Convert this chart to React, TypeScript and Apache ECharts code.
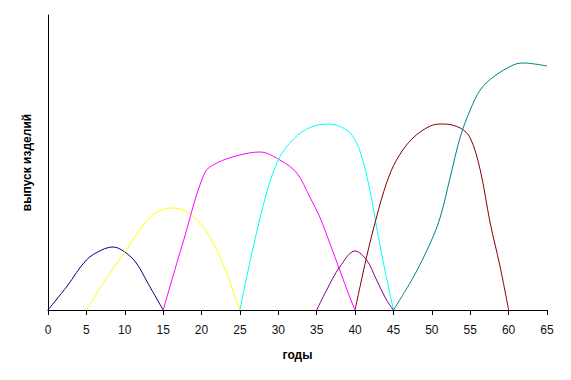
import React, { useEffect, useRef } from "react";
import * as echarts from "echarts";

// x: years, y: output (relative units)
const xTicks = [0, 5, 10, 15, 20, 25, 30, 35, 40, 45, 50, 55, 60, 65];

const navyData = [[0, 0], [2.5, 24], [5, 50], [7, 60], [8.5, 63], [10, 58], [11.5, 47], [13, 27], [15, 0]];
const yellowData = [[5, 0], [7.5, 30], [10, 58], [12.5, 86], [14, 97], [16, 102], [17.6, 100], [19.8, 87], [21.5, 67], [22.9, 44], [24.2, 17], [25, 0]];
const magentaData = [[15, 0], [17.6, 68], [20.4, 137], [22, 147], [25, 155], [27.6, 158], [30.2, 150], [32.4, 137], [34.1, 113], [35.4, 93], [36.7, 67], [38, 40], [39.3, 13], [40, 0]];
const cyanData = [[25, 0], [26.5, 55], [28.5, 118], [30, 150], [31.5, 167], [33.7, 181], [36.4, 186], [38.9, 180], [40.2, 167], [41.1, 147], [42, 117], [42.8, 83], [43.7, 47], [45, 0]];
const purpleData = [[35, 0], [36.3, 20], [38, 43], [40, 59], [41.5, 50], [42.8, 30], [44.1, 10], [45, 0]];
const darkRedData = [[40, 0], [41.5, 53], [42.8, 93], [44.1, 127], [45.4, 150], [47.4, 171], [49.8, 184], [51.5, 186], [53.7, 182], [55, 172], [56.3, 140], [57.6, 87], [58.9, 43], [60, 0]];
const tealData = [[45, 0], [47.6, 33], [49.8, 67], [51.1, 93], [52.4, 133], [53.7, 173], [55, 200], [56.3, 220], [58, 233], [60.6, 245], [61.9, 247], [65, 244]];

const seriesList = [
  { name: "1", data: navyData, color: "#000080" },
  { name: "2", data: yellowData, color: "#FFFF00" },
  { name: "3", data: magentaData, color: "#FF00FF" },
  { name: "4", data: cyanData, color: "#00FFFF" },
  { name: "5", data: purpleData, color: "#800080" },
  { name: "6", data: darkRedData, color: "#800000" },
  { name: "7", data: tealData, color: "#008080" },
];

export default function App() {
  const ref = useRef<HTMLDivElement>(null);
  useEffect(() => {
    document.body.style.margin = "0";
    const chart = echarts.init(ref.current!, null, { renderer: "svg" });
    chart.setOption({
      animation: false,
      backgroundColor: "#ffffff",
      grid: { left: 48, right: 24, top: 15, bottom: 70 },
      xAxis: {
        type: "value",
        min: 0,
        max: 65,
        interval: 5,
        name: "годы",
        nameLocation: "middle",
        nameGap: 39,
        nameTextStyle: { fontFamily: "Liberation Sans, Arial", fontSize: 12, fontWeight: "bold", color: "#000" },
        axisLine: { lineStyle: { color: "#000", width: 1 } },
        axisTick: { show: true, length: 5, lineStyle: { color: "#000" } },
        axisLabel: {
          fontFamily: "Liberation Sans, Arial",
          fontSize: 12,
          color: "#111",
          margin: 14,
          formatter: (v: number) => (xTicks.includes(v) ? String(v) : ""),
        },
        splitLine: { show: false },
      },
      yAxis: {
        type: "value",
        min: 0,
        max: 295,
        name: "выпуск изделий",
        nameLocation: "middle",
        nameGap: 15,
        nameTextStyle: { fontFamily: "Liberation Sans, Arial", fontSize: 12, fontWeight: "bold", color: "#000" },
        axisLine: { show: true, lineStyle: { color: "#000", width: 1 } },
        axisTick: { show: false },
        axisLabel: { show: false },
        splitLine: { show: false },
      },
      series: seriesList.map((s) => ({
        type: "line",
        name: s.name,
        data: s.data,
        smooth: 0.35,
        symbol: "none",
        lineStyle: { color: s.color, width: 1 },
        itemStyle: { color: s.color },
      })),
    });
    return () => chart.dispose();
  }, []);
  return <div ref={ref} style={{ width: 571, height: 380 }} />;
}
